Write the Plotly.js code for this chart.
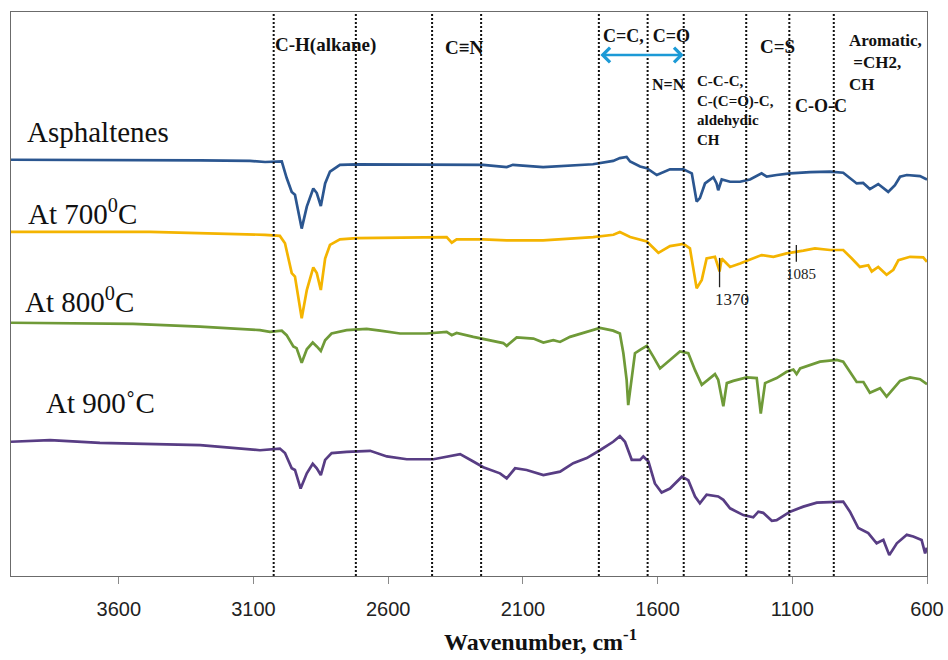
<!DOCTYPE html>
<html>
<head>
<meta charset="utf-8">
<script src="https://cdn.plot.ly/plotly-3.0.1.min.js"></script>
<style>
  html, body { margin: 0; padding: 0; background: #fff; }
  #chart { width: 948px; height: 660px; }
</style>
</head>
<body>
<div id="chart"></div>
<script>
// FTIR spectra (transmittance, offset for clarity) vs wavenumber in cm-1
const xAsph = [4000,3670,3298,3113,3057,2995,2977,2958,2946,2921,2902,2878,2865,2850,2834,2816,2779,2717,2482,2248,2160,2137,2025,1962,1840,1765,1740,1715,1702,1665,1640,1603,1554,1504,1473,1455,1443,1424,1393,1381,1375,1362,1331,1294,1257,1214,1195,1158,1108,1034,960,911,879,861,837,812,781,744,719,700,675,626,600];
const yAsph = [73.8,73.8,73.7,73.6,73.4,73.5,70.6,68.1,67.6,61.6,65.5,68.7,67.9,65.6,69.6,71.7,72.9,73.0,73.0,72.9,72.5,72.9,72.5,72.7,73.0,73.6,74.1,74.3,73.5,72.6,72.3,71.1,72.1,72.1,71.4,66.4,67.0,69.6,70.7,69.6,68.4,70.3,69.9,69.9,70.3,71.4,70.8,71.1,71.4,71.6,71.7,71.5,70.2,69.6,69.7,68.6,69.5,68.1,69.3,70.8,71.1,70.9,70.3];

const x700 = [4000,3484,3057,3002,2983,2958,2946,2921,2902,2878,2865,2850,2834,2816,2779,2717,2383,2364,2346,2248,2160,2025,1839,1764,1740,1715,1702,1640,1597,1554,1504,1480,1455,1436,1418,1387,1370,1362,1331,1294,1269,1245,1214,1170,1121,1059,1016,960,911,879,849,818,805,781,750,725,706,663,614,600];
const y700 = [61.0,61.0,60.5,60.3,59.0,53.7,53.1,45.7,50.7,54.7,53.7,50.7,56.3,58.7,59.7,59.9,60.1,59.1,59.7,59.7,59.5,59.5,60.1,60.5,61.0,60.5,60.1,59.3,57.3,58.5,58.9,58.1,51.0,52.5,56.3,56.6,54.0,56.3,54.8,55.4,55.9,56.3,56.9,56.6,57.2,57.7,58.1,57.8,57.8,56.3,54.8,55.1,54.0,54.8,53.4,54.3,56.0,56.6,56.5,55.7];

const x800 = [4000,3547,3298,3076,3039,2995,2977,2952,2940,2921,2902,2880,2865,2850,2834,2810,2754,2680,2630,2556,2457,2383,2364,2346,2284,2247,2173,2160,2123,2061,2024,1987,1962,1925,1863,1814,1765,1740,1727,1715,1709,1696,1684,1665,1640,1616,1591,1554,1517,1486,1461,1436,1412,1387,1375,1356,1343,1319,1269,1232,1217,1201,1158,1121,1096,1084,1071,1034,997,935,911,861,836,812,774,750,725,700,663,626,600];
const y800 = [44.9,44.7,44.2,43.6,43.3,43.5,42.7,40.7,40.4,37.8,40.2,41.4,40.7,39.9,41.8,43.0,43.6,43.8,43.5,43.0,43.0,43.3,42.7,43.1,42.4,42.0,41.3,40.8,42.3,42.1,41.4,41.8,41.5,42.4,43.3,44.0,43.5,43.0,39.5,34.8,30.3,34.8,39.5,40.1,40.8,38.9,36.8,38.3,39.8,39.5,36.5,33.9,34.8,35.8,34.8,30.1,34.2,34.6,35.2,35.1,28.8,34.2,35.1,36.2,36.6,35.8,36.8,37.4,38.0,38.3,38.0,34.4,34.4,32.5,33.3,31.8,33.3,34.6,35.2,34.9,34.0];

const x900 = [4000,3855,3670,3298,3076,3002,2983,2958,2946,2925,2902,2880,2865,2850,2834,2810,2754,2667,2605,2531,2432,2383,2333,2284,2247,2185,2160,2129,2086,2024,1962,1913,1863,1814,1765,1740,1721,1696,1665,1653,1634,1610,1585,1554,1510,1486,1461,1443,1418,1375,1356,1331,1282,1245,1226,1208,1176,1158,1108,1059,1009,960,911,886,855,818,787,762,740,712,675,651,620,607,600];
const y900 = [23.8,24.1,23.6,23.2,22.3,22.6,21.8,19.1,18.8,15.5,18.2,19.9,19.1,17.9,20.6,21.8,22.0,22.2,21.2,20.7,20.7,21.2,21.6,20.3,19.3,18.2,17.3,19.1,18.8,17.9,18.5,20.0,20.9,22.3,23.8,24.8,23.8,20.6,20.6,21.2,20.3,16.4,14.8,15.5,17.6,17.0,14.1,12.9,14.4,14.1,13.5,12.0,10.8,10.4,11.4,11.2,9.8,9.9,11.4,12.3,13.0,13.1,13.2,11.4,8.5,7.6,5.8,6.4,3.7,5.8,7.3,7.0,6.4,4.0,5.0];

const seriesNames = ["Asphaltenes", "At 700\u2070C", "At 800\u2070C", "At 900\u02daC"];
const seriesColors = ["#2b5690", "#f4b400", "#6f9a38", "#583d84"];

const tickValues = [3600, 3100, 2600, 2100, 1600, 1100, 600];
const tickLabels = ["3600", "3100", "2600", "2100", "1600", "1100", "600"];

// band boundaries (cm-1) marked with dotted guides
const bandLines = [3025, 2720, 2437, 2255, 1818, 1637, 1503, 1271, 1111, 946];

// marked peaks on the 700 C spectrum: wavenumber, tick top/bottom
const peakWavenumbers = [1370, 1085];
const peakTickTop = [56.4, 58.7];
const peakTickBottom = [51.2, 55.7];

const xs = [xAsph, x700, x800, x900];
const ys = [yAsph, y700, y800, y900];

const traces = xs.map((x, i) => ({
  type: "scatter",
  mode: "lines",
  x: x,
  y: ys[i],
  name: seriesNames[i],
  line: { color: seriesColors[i], width: 2.7 },
  hoverinfo: "skip"
}));

const shapes = bandLines.map(w => ({
  type: "line", xref: "x", yref: "paper",
  x0: w, x1: w, y0: 0, y1: 1,
  line: { color: "#111", width: 2, dash: "2px,2px" }
}));
peakWavenumbers.forEach((w, i) => {
  shapes.push({
    type: "line", xref: "x", yref: "y",
    x0: w, x1: w, y0: peakTickBottom[i], y1: peakTickTop[i],
    line: { color: "#222", width: 1.3 }
  });
});

const serif = "Liberation Serif, Times New Roman, serif";
const boldFont = (size) => ({ family: serif, size: size, color: "#111", weight: "bold" });

function label(text, x, y, font, opts) {
  return Object.assign({
    text: text, x: x, y: y, xref: "paper", yref: "paper",
    xanchor: "left", yanchor: "middle", showarrow: false, font: font
  }, opts || {});
}

const sampleFont = { family: serif, size: 29, color: "#111" };

const annotations = [
  // sample names
  label("Asphaltenes", 0.0153, 0.787, sampleFont),
  label("At 700<sup>0</sup>C", 0.0164, 0.646, sampleFont),
  label("At 800<sup>0</sup>C", 0.0131, 0.489, sampleFont),
  label("At 900\u02daC", 0.036, 0.307, sampleFont),

  // functional group labels
  label("C-H(alkane)", 0.286, 0.9415, boldFont(19)),
  label("C\u2261N", 0.4716, 0.9367, boldFont(19)),
  label("C=C,&nbsp;&nbsp;C=O", 0.6436, 0.9574, boldFont(18)),
  label("N=N", 0.6981, 0.8718, boldFont(16)),
  label("C-C-C,<br>C-(C=O)-C,<br>aldehydic<br>CH", 0.7467, 0.8259, boldFont(15),
        { align: "left", yanchor: "middle" }),
  label("C=S", 0.8155, 0.9397, boldFont(19)),
  label("C-O-C", 0.8537, 0.8333, boldFont(18)),
  label("Aromatic,<br>&nbsp;=CH2,<br>CH", 0.9127, 0.9110, boldFont(17),
        { align: "left", yanchor: "middle" }),

  // double arrow spanning the C=C / C=O region
  {
    text: "", x: bandLines[6], y: 0.9238, xref: "x", yref: "paper",
    ax: bandLines[4], ay: 0, axref: "x", ayref: "pixel",
    showarrow: true, arrowside: "end+start",
    arrowhead: 4, startarrowhead: 4, arrowsize: 1.1, startarrowsize: 1.1,
    arrowwidth: 2.6, arrowcolor: "#1c9ad6", standoff: 0, startstandoff: 0
  },

  // peak labels
  {
    text: String(peakWavenumbers[0]), x: peakWavenumbers[0], y: peakTickBottom[0],
    xref: "x", yref: "y", xshift: 12, xanchor: "center", yanchor: "top", yshift: -1,
    showarrow: false, font: { family: serif, size: 17, color: "#222" }
  },
  {
    text: String(peakWavenumbers[1]), x: peakWavenumbers[1], y: peakTickBottom[1],
    xref: "x", yref: "y", xshift: 5, xanchor: "center", yanchor: "top", yshift: -2,
    showarrow: false, font: { family: serif, size: 15, color: "#222" }
  },

  // x axis title
  {
    text: "Wavenumber, cm<sup>-1</sup>", x: 0.5786, y: -0.1135,
    xref: "paper", yref: "paper", xanchor: "center", yanchor: "middle",
    showarrow: false, font: boldFont(24)
  }
];

const layout = {
  width: 948,
  height: 660,
  margin: { l: 11, r: 21, t: 12, b: 84 },
  paper_bgcolor: "#ffffff",
  plot_bgcolor: "#ffffff",
  showlegend: false,
  xaxis: {
    range: [4000, 600],
    tickvals: tickValues,
    ticktext: tickLabels,
    ticks: "outside",
    ticklen: 7,
    tickwidth: 1,
    tickcolor: "#8a8a8a",
    ticklabelstandoff: 8,
    showline: true,
    linecolor: "#6b6b6b",
    linewidth: 1,
    mirror: true,
    showgrid: false,
    zeroline: false,
    tickfont: { family: "Liberation Sans, Arial, sans-serif", size: 20, color: "#222" }
  },
  yaxis: {
    range: [0, 100],
    showticklabels: false,
    ticks: "",
    showline: true,
    linecolor: "#6b6b6b",
    linewidth: 1,
    mirror: true,
    showgrid: false,
    zeroline: false
  },
  shapes: shapes,
  annotations: annotations
};

Plotly.newPlot("chart", traces, layout, { displayModeBar: false, staticPlot: true });
</script>
</body>
</html>
